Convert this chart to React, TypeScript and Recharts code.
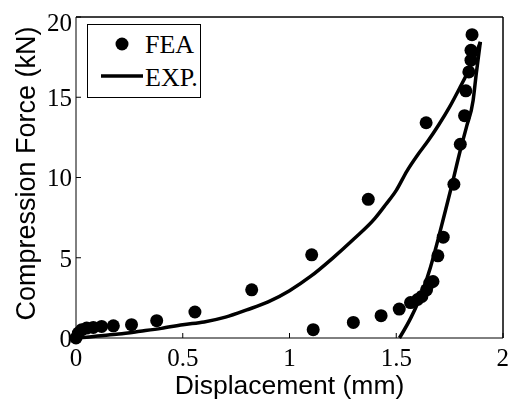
import React from 'react';
import { ScatterChart, Scatter, XAxis, YAxis, Legend, Label, ReferenceLine } from 'recharts';

// FEA points (displacement mm, force kN)
const feaX = [0, 0.011, 0.027, 0.05, 0.081, 0.12, 0.175, 0.26, 0.378, 0.557, 0.823, 1.104, 1.111, 1.299, 1.369, 1.429, 1.514, 1.567, 1.6, 1.62, 1.642, 1.657, 1.672, 1.64, 1.695, 1.72, 1.77, 1.8, 1.82, 1.826, 1.84, 1.85, 1.85, 1.855];
const feaY = [0, 0.31, 0.52, 0.62, 0.66, 0.72, 0.76, 0.83, 1.08, 1.62, 3.0, 5.18, 0.52, 0.97, 8.64, 1.39, 1.8, 2.21, 2.4, 2.59, 3.0, 3.42, 3.52, 13.41, 5.12, 6.28, 9.58, 12.07, 13.85, 15.4, 16.58, 17.31, 17.93, 18.9];

// experiment, loading branch
const loadX = [0, 0.05, 0.1, 0.2, 0.3, 0.4, 0.5, 0.6, 0.7, 0.8, 0.9, 1.0, 1.1, 1.2, 1.3, 1.4, 1.45, 1.5, 1.55, 1.6, 1.65, 1.7, 1.75, 1.8, 1.84, 1.87, 1.894];
const loadY = [0, 0.05, 0.12, 0.25, 0.42, 0.6, 0.83, 1.0, 1.3, 1.75, 2.25, 2.95, 3.85, 4.95, 6.15, 7.45, 8.3, 9.2, 10.4, 11.4, 12.3, 13.3, 14.4, 15.65, 16.7, 17.6, 18.45];
// experiment, unloading branch
const unloadX = [1.515, 1.57, 1.62, 1.66, 1.695, 1.72, 1.76, 1.8, 1.83, 1.86, 1.875, 1.894];
const unloadY = [0, 1.3, 2.8, 4.4, 6.1, 7.4, 9.5, 11.7, 13.2, 14.8, 16.5, 18.45];

const xTicks = [0, 0.5, 1, 1.5, 2];
const yTicks = [0, 5, 10, 15, 20];

const feaData = feaX.map((x, i) => ({ x, y: feaY[i] }));
const loadData = loadX.map((x, i) => ({ x, y: loadY[i] }));
const unloadData = unloadX.map((x, i) => ({ x, y: unloadY[i] }));

const serif = '"Liberation Serif", "Times New Roman", serif';
const sans = '"Liberation Sans", Arial, sans-serif';
const tickStyle = { fill: '#000', fontSize: 25, fontFamily: serif };
const expLine = { stroke: '#000', strokeWidth: 3.5 };

const FeaDot = (props: any) => <circle cx={props.cx} cy={props.cy} r={6.5} fill="#000" />;
const NoDot = () => <g />;

const LegendBox = () => (
  <svg width={114} height={74} style={{ display: 'block' }}>
    <rect x={0.5} y={0.5} width={113} height={73} fill="#fff" stroke="#000" />
    <circle cx={35} cy={20} r={6.5} fill="#000" />
    <text x={58} y={20} dominantBaseline="central" fontFamily={serif} fontSize={26} fill="#000">FEA</text>
    <line x1={14} x2={56} y1={52} y2={52} stroke="#000" strokeWidth={3.5} />
    <text x={58} y={53} dominantBaseline="central" fontFamily={serif} fontSize={26} fill="#000">EXP.</text>
  </svg>
);

const YTitle = (props: any) => {
  const { viewBox } = props;
  const cx = viewBox.x + 18;
  const cy = viewBox.y + viewBox.height / 2 - 4;
  return (
    <text x={cx} y={cy} transform={`rotate(-90, ${cx}, ${cy})`} textAnchor="middle" dominantBaseline="central"
      fontFamily={sans} fontSize={27} fill="#000">
      Compression Force (kN)
    </text>
  );
};

export default function App() {
  return (
    <div style={{ position: 'fixed', left: 8, top: 8 }}>
      <ScatterChart width={501} height={391} margin={{ top: 9, right: 6, bottom: 0, left: 0 }}>
        <XAxis dataKey="x" type="number" domain={[0, 2]} ticks={xTicks} height={61}
          stroke="#000" tickSize={-5} tickMargin={15} tick={tickStyle}>
          <Label value="Displacement (mm)" position="insideBottom" offset={5}
            style={{ fontFamily: sans, fontSize: 26.5, fill: '#000' }} />
        </XAxis>
        <YAxis dataKey="y" type="number" domain={[0, 20]} ticks={yTicks} width={68}
          stroke="#000" tickSize={-5} tickMargin={9} tick={tickStyle} label={YTitle} />
        <XAxis xAxisId="top" dataKey="x" orientation="top" mirror type="number" domain={[0, 2]} ticks={xTicks}
          stroke="#000" tickSize={5} tick={false} />
        <YAxis yAxisId="right" dataKey="y" orientation="right" mirror type="number" domain={[0, 20]} ticks={yTicks}
          stroke="#000" tickSize={5} tick={false} />
        <ReferenceLine x={2} stroke="#000" />
        <ReferenceLine y={20} stroke="#000" />
        <Legend layout="vertical" align="center" verticalAlign="middle" content={LegendBox}
          wrapperStyle={{ left: 79, top: 16, width: 114, height: 74 }} />
        <Scatter name="EXP." data={loadData} line={expLine} lineJointType="monotoneX"
          shape={NoDot} isAnimationActive={false} />
        <Scatter name="EXP. unloading" data={unloadData} yAxisId="right" line={expLine} lineJointType="monotoneX"
          shape={NoDot} isAnimationActive={false} />
        <Scatter name="FEA" data={feaData} xAxisId="top" shape={FeaDot} isAnimationActive={false} />
      </ScatterChart>
    </div>
  );
}
